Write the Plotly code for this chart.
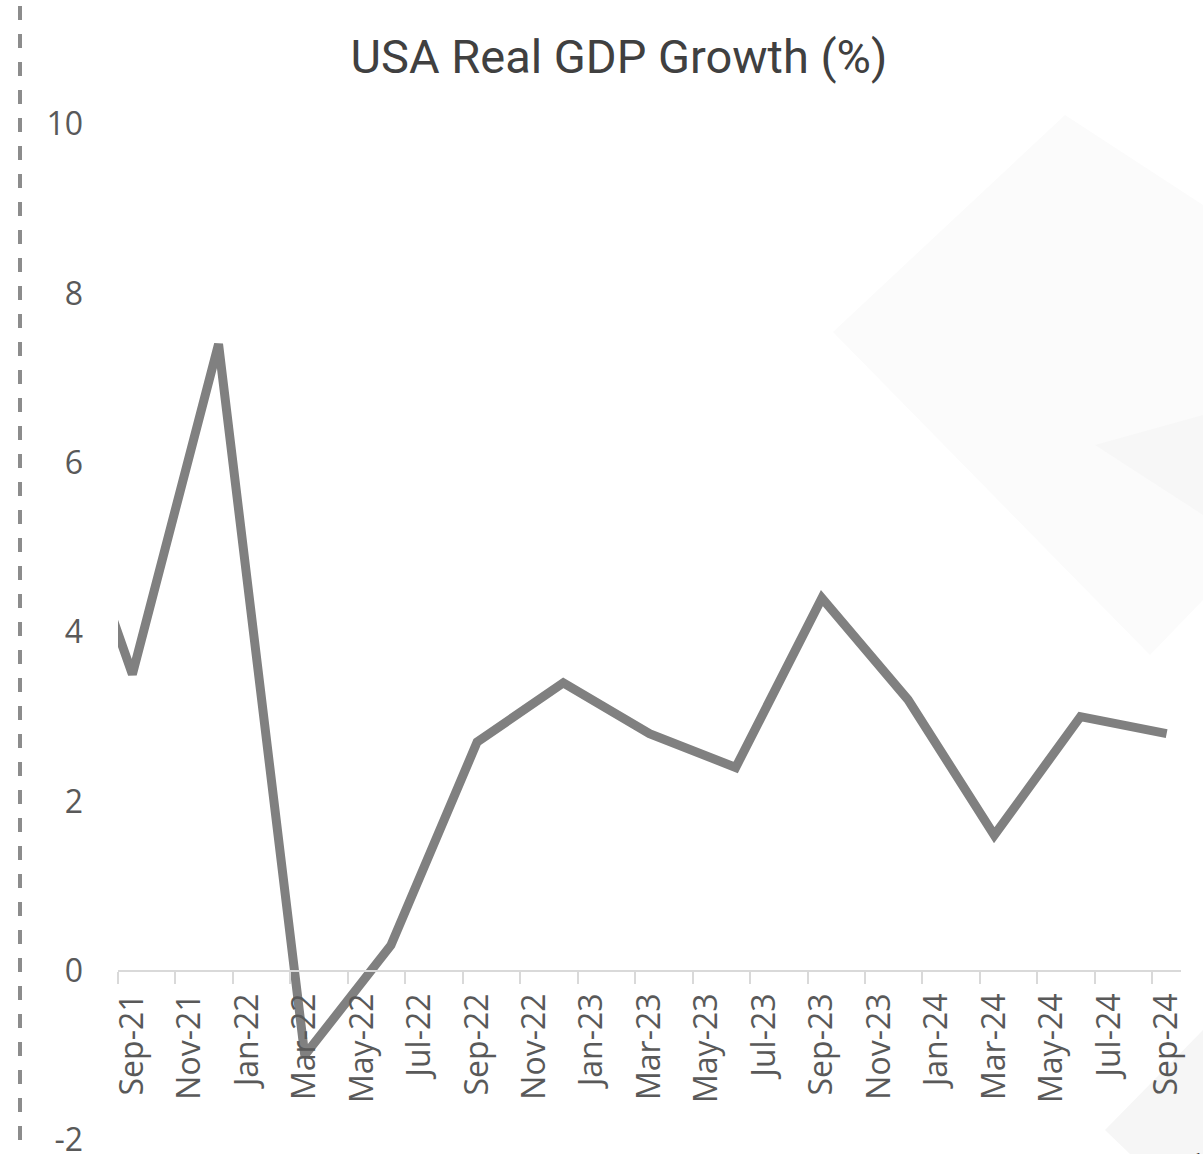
import pandas as pd
import plotly.graph_objects as go

# Quarterly real GDP growth, annualised (%)
quarters = ["2021-06", "2021-09", "2021-12", "2022-03", "2022-06", "2022-09",
            "2022-12", "2023-03", "2023-06", "2023-09", "2023-12", "2024-03",
            "2024-06", "2024-09"]
gdp_growth = [6.4, 3.5, 7.4, -1.0, 0.3, 2.7, 3.4, 2.8, 2.4, 4.4, 3.2, 1.6, 3.0, 2.8]

# Axis labels every two months
month_ticks = ["2021-09", "2021-11", "2022-01", "2022-03", "2022-05", "2022-07",
               "2022-09", "2022-11", "2023-01", "2023-03", "2023-05", "2023-07",
               "2023-09", "2023-11", "2024-01", "2024-03", "2024-05", "2024-07",
               "2024-09"]
month_tick_text = ["Sep-21", "Nov-21", "Jan-22", "Mar-22", "May-22", "Jul-22",
                   "Sep-22", "Nov-22", "Jan-23", "Mar-23", "May-23", "Jul-23",
                   "Sep-23", "Nov-23", "Jan-24", "Mar-24", "May-24", "Jul-24",
                   "Sep-24"]
y_ticks = [-2, 0, 2, 4, 6, 8, 10]
y_tick_text = ["-2", "0", "2", "4", "6", "8", "10"]

# Month-based axis: one slot per month, Sep-21 = 0
base = pd.Period(month_ticks[0], freq="M")
def month_index(s):
    return (pd.Period(s, freq="M") - base).n

x_vals = [month_index(q) for q in quarters]
tick_pos = [month_index(m) for m in month_ticks]
slot_edges = [p - 0.5 for p in tick_pos]
x_range = [tick_pos[0] - 0.5, tick_pos[-1] + 0.5]
y_range = [y_ticks[0], y_ticks[-1]]

W, H = 1203, 1154
L, R, T, B = 118, 22, 124, 14
pw, ph = W - L - R, H - T - B

def px_x(p):
    return (p - L) / pw

def px_y(p):
    return (H - B - p) / ph

fig = go.Figure()
fig.add_trace(go.Scatter(
    x=x_vals, y=gdp_growth, mode="lines",
    line=dict(color="#808080", width=9),
    hoverinfo="x+y", showlegend=False,
))

def poly(points, color):
    path = "M " + " L ".join(f"{px_x(a):.4f},{px_y(b):.4f}" for a, b in points) + " Z"
    return dict(type="path", path=path, xref="paper", yref="paper",
                fillcolor=color, line=dict(width=0), layer="below")

# faint background emblem
shapes = [
    poly([(833, 332), (1065, 115), (1203, 205), (1203, 600), (1150, 655)], "#fbfbfb"),
    poly([(1095, 445), (1203, 415), (1203, 515)], "#f7f7f7"),
    poly([(1105, 1130), (1203, 1030), (1203, 1154), (1130, 1154)], "#f6f6f6"),
    dict(type="line", xref="paper", yref="paper",
         x0=px_x(20), x1=px_x(20), y0=px_y(6), y1=px_y(1154),
         line=dict(color="#8c8c8c", width=4, dash="14px,14px")),
]

fig.update_layout(
    width=W, height=H,
    margin=dict(l=L, r=R, t=T, b=B, autoexpand=False),
    paper_bgcolor="white", plot_bgcolor="rgba(0,0,0,0)",
    font=dict(family="Open Sans", color="#595959", size=32),
    title=dict(text="USA Real GDP Growth (%)", x=619 / W, xanchor="center",
               xref="container",
               y=1 - 57 / H, yanchor="middle", yref="container",
               font=dict(family="Roboto", size=47, color="#404040")),
    shapes=shapes,
    annotations=[dict(text="1", x=px_x(1197), y=px_y(1146), xref="paper", yref="paper",
                      xanchor="center", yanchor="top", showarrow=False,
                      font=dict(family="Roboto", size=26, color="#222222"))],
    xaxis=dict(
        range=x_range, anchor="free",
        position=(0 - y_range[0]) / (y_range[1] - y_range[0]),
        tickmode="array", tickvals=tick_pos, ticktext=month_tick_text,
        tickangle=-90, ticks="", ticklabelstandoff=9,
        showline=True, linecolor="#d9d9d9", linewidth=2,
        showgrid=False, zeroline=False, automargin=False,
        minor=dict(tickmode="array", tickvals=slot_edges, ticks="outside",
                   ticklen=12, tickwidth=2, tickcolor="#d9d9d9", showgrid=False),
    ),
    yaxis=dict(
        range=y_range, tickmode="array", tickvals=y_ticks, ticktext=y_tick_text,
        ticks="", ticklabelstandoff=34, ticklabeloverflow="allow",
        showline=False, showgrid=False, zeroline=False, automargin=False,
    ),
)

fig.write_html("out.html")
